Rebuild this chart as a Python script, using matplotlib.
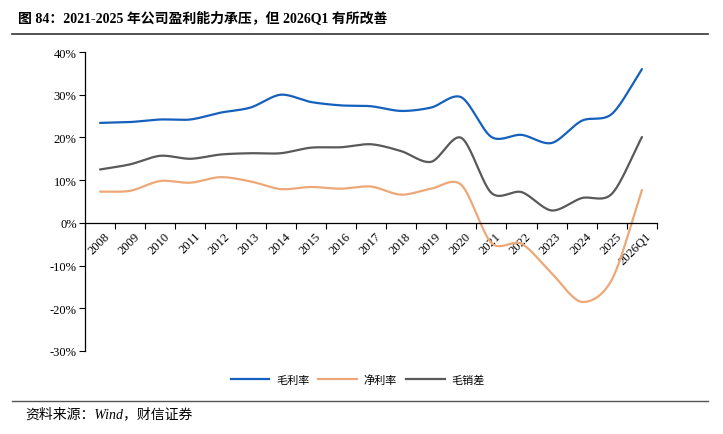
import numpy as np
import matplotlib
matplotlib.use("Agg")
import matplotlib.pyplot as plt
from matplotlib.lines import Line2D

categories = ["2008", "2009", "2010", "2011", "2012", "2013", "2014", "2015", "2016",
              "2017", "2018", "2019", "2020", "2021", "2022", "2023", "2024", "2025", "2026Q1"]
gross_margin = [23.4, 23.6, 24.2, 24.2, 25.8, 27.0, 30.0, 28.3, 27.5, 27.3, 26.2, 27.0,
                29.4, 20.1, 20.6, 18.7, 23.9, 25.5, 36.0]
net_margin = [7.3, 7.5, 9.8, 9.4, 10.7, 9.7, 7.9, 8.4, 8.0, 8.5, 6.6, 8.0,
              8.9, -4.7, -4.9, -11.8, -18.5, -13.3, 7.7]
gross_sales_diff = [12.5, 13.7, 15.7, 15.0, 16.0, 16.3, 16.3, 17.6, 17.7, 18.4, 16.8, 14.3,
                    19.9, 7.0, 7.2, 2.9, 5.8, 6.8, 20.1]
series_names = ["毛利率", "净利率", "毛销差"]
colors = ["#1560bd", "#eda878", "#595959"]

LAT = ["Liberation Serif", "Noto Sans CJK SC"]
CJK = ["Noto Sans CJK SC", "DejaVu Sans"]


def smooth(xs, ys, n=30, t=0.45):
    xs = np.asarray(xs, float); ys = np.asarray(ys, float)
    px = np.concatenate([[2*xs[0]-xs[1]], xs, [2*xs[-1]-xs[-2]]])
    py = np.concatenate([[2*ys[0]-ys[1]], ys, [2*ys[-1]-ys[-2]]])
    ox, oy = [], []
    for i in range(1, len(px)-2):
        p0, p1, p2, p3 = px[i-1], px[i], px[i+1], px[i+2]
        q0, q1, q2, q3 = py[i-1], py[i], py[i+1], py[i+2]
        s = np.linspace(0, 1, n, endpoint=(i == len(px)-3))
        c1x = p1 + (p2-p0)*t/3; c2x = p2 - (p3-p1)*t/3
        c1y = q1 + (q2-q0)*t/3; c2y = q2 - (q3-q1)*t/3
        b0 = (1-s)**3; b1 = 3*(1-s)**2*s; b2 = 3*(1-s)*s**2; b3 = s**3
        ox.append(b0*p1 + b1*c1x + b2*c2x + b3*p2)
        oy.append(b0*q1 + b1*c1y + b2*c2y + b3*q2)
    return np.concatenate(ox), np.concatenate(oy)


fig = plt.figure(figsize=(7.23, 4.35), dpi=100)
ax = fig.add_axes([85/723, 1-352/435, (657-85)/723, (352-53)/435])

x = np.arange(len(categories))
for ys, c in zip([gross_margin, net_margin, gross_sales_diff], colors):
    sx, sy = smooth(x, ys)
    ax.plot(sx, sy, color=c, lw=1.6, solid_capstyle="round")

ax.set_xlim(-0.5, len(categories)-0.5)
ax.set_ylim(-30, 40)

for s in ["top", "right"]:
    ax.spines[s].set_visible(False)
ax.spines["bottom"].set_position(("data", 0))
ax.spines["left"].set_linewidth(0.9)
ax.spines["bottom"].set_linewidth(0.9)
ax.patch.set_alpha(0)

ax.set_xticks(np.arange(-0.5, len(categories)), minor=True)
ax.tick_params(axis="x", which="minor", direction="out", length=4, width=0.8)
ax.tick_params(axis="x", which="major", length=0, pad=5)
ax.tick_params(axis="y", direction="out", length=4, width=0.8, pad=2)

ax.set_yticks(np.arange(-30, 41, 10))
ax.set_yticklabels([f"{v}%" for v in range(-30, 41, 10)], fontfamily=LAT, fontsize=9)
ax.set_xticks(x + 0.12)
ax.set_xticklabels(categories, rotation=45, ha="right", va="top", rotation_mode="anchor",
                   fontfamily=LAT, fontsize=9)

handles = [Line2D([], [], color=c, lw=1.6) for c in colors]
fig.legend(handles, series_names, loc="center", bbox_to_anchor=(0.495, 1-381/435), ncol=3,
           frameon=False, prop={"family": CJK, "size": 8}, handlelength=3.5,
           columnspacing=0.8, handletextpad=0.6)

fig.text(18/723, 1-18/435, "图 84：2021-2025 年公司盈利能力承压，但 2026Q1 有所改善",
         fontfamily=LAT, fontweight="bold", fontsize=10, va="center", ha="left")
fig.add_artist(Line2D([12/723, 708/723], [1-35/435, 1-35/435], color="#333333", lw=1.2))
fig.add_artist(Line2D([12/723, 708/723], [1-402/435, 1-402/435], color="#555555", lw=1.0))
fig.text(25/723, 1-414/435, "资料来源：Wind，财信证券", fontfamily=LAT, fontstyle="italic",
         fontsize=10, va="center", ha="left")

fig.savefig("out.png", dpi=100)
